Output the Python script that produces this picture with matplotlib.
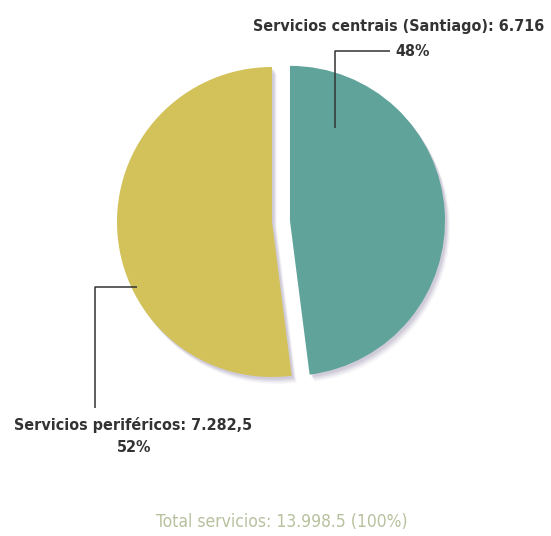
import matplotlib
matplotlib.use("Agg")
import matplotlib.pyplot as plt
from matplotlib.patches import Wedge

# ---- data ----
categories = ["Servicios centrais (Santiago)", "Servicios periféricos"]
values = [6716, 7282.5]
value_labels = ["6.716", "7.282,5"]
pct_labels = ["48%", "52%"]
total_label = "Total servicios: 13.998.5 (100%)"
colors = ["#5FA39A", "#D3C25A"]

W, H = 551, 536
fig = plt.figure(figsize=(W / 100, H / 100), dpi=100)
ax = fig.add_axes([0, 0, 1, 1])

cx, cy, R = 272, H - 222, 155
wedges, _ = ax.pie(values, colors=colors, startangle=90, counterclock=False,
                   explode=[18, 0.0], center=(cx, cy), radius=R,
                   wedgeprops=dict(linewidth=0), frame=True)
ax.set_xlim(0, W)
ax.set_ylim(0, H)
ax.set_aspect("equal")
ax.axis("off")

# soft shadow
for w in wedges:
    for dx, dy, a in [(5, -7, 0.08), (4, -5.5, 0.12), (3, -4, 0.16), (2, -2.5, 0.2)]:
        s = Wedge((w.center[0] + dx, w.center[1] + dy), w.r, w.theta1, w.theta2,
                  facecolor="#9a90b0", edgecolor="none", alpha=a, zorder=w.get_zorder() - 0.5)
        ax.add_patch(s)

font = dict(family="DejaVu Sans", fontstretch="condensed", fontweight="bold", color="#333333")

# leader for Servicios centrais
ax.plot([335, 335, 390], [H - 128, H - 51, H - 51], color="#333333", lw=1.1, solid_capstyle="butt")
ax.text(399, H - 27, f"{categories[0]}: {value_labels[0]}",
        ha="center", va="center", fontsize=11.5, **font)
ax.text(413, H - 52, pct_labels[0], ha="center", va="center", fontsize=11.5, **font)

# leader for Servicios periféricos
ax.plot([137, 95, 95], [H - 287, H - 287, H - 408], color="#333333", lw=1.1, solid_capstyle="butt")
ax.text(133, H - 425, f"{categories[1]}: {value_labels[1]}",
        ha="center", va="center", fontsize=11.5, **font)
ax.text(134, H - 447, pct_labels[1], ha="center", va="center", fontsize=11.5, **font)

ax.text(282, H - 522, total_label, ha="center", va="center", fontsize=12.5,
        family="DejaVu Sans", fontstretch="condensed", color="#B7C19E")

fig.savefig("out.png", dpi=100)
